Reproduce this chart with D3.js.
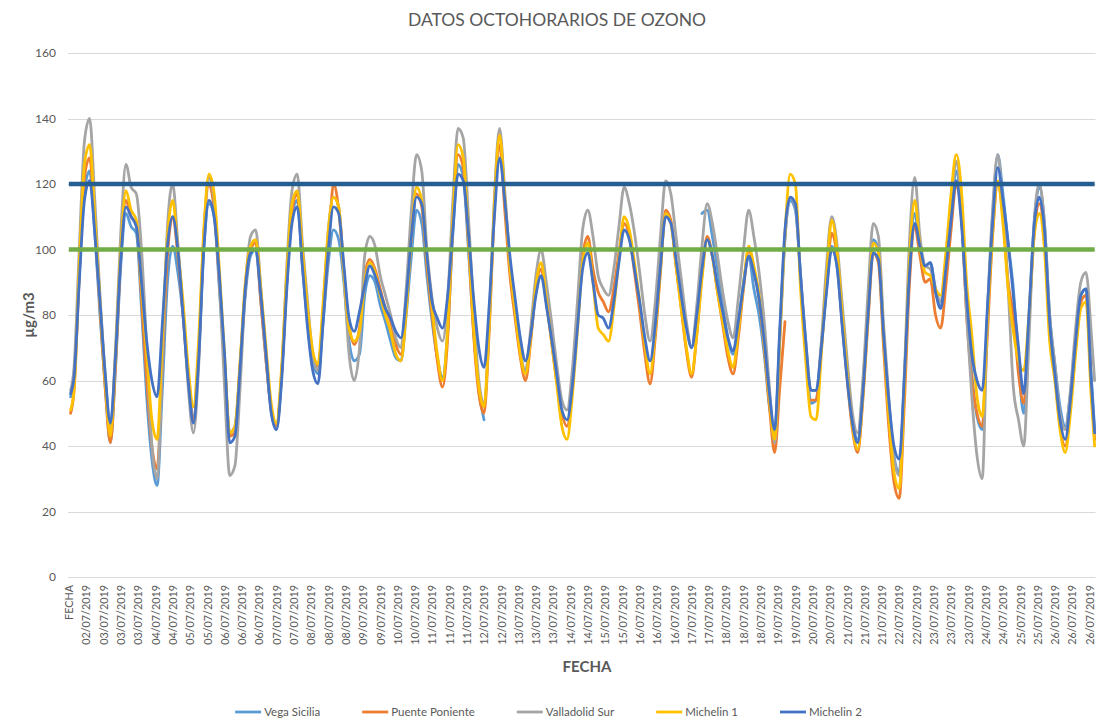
<!DOCTYPE html>
<html><head><meta charset="utf-8">
<script src="https://cdn.jsdelivr.net/npm/d3@7"></script>
<style>
html,body{margin:0;padding:0;background:#fff;}
svg{display:block;font-family:Lato,"Liberation Sans",sans-serif;}
</style></head><body>
<svg id="chart" width="1097" height="720"></svg>
<script>
// ---- data ----
const tickLabels = ["FECHA","02/07/2019","03/07/2019","03/07/2019","03/07/2019","04/07/2019","04/07/2019","05/07/2019","05/07/2019","06/07/2019","06/07/2019","06/07/2019","07/07/2019","07/07/2019","08/07/2019","08/07/2019","08/07/2019","09/07/2019","09/07/2019","10/07/2019","10/07/2019","11/07/2019","11/07/2019","11/07/2019","12/07/2019","12/07/2019","13/07/2019","13/07/2019","13/07/2019","14/07/2019","14/07/2019","15/07/2019","15/07/2019","16/07/2019","16/07/2019","16/07/2019","17/07/2019","17/07/2019","18/07/2019","18/07/2019","18/07/2019","19/07/2019","19/07/2019","20/07/2019","20/07/2019","21/07/2019","21/07/2019","21/07/2019","22/07/2019","22/07/2019","23/07/2019","23/07/2019","23/07/2019","24/07/2019","24/07/2019","25/07/2019","25/07/2019","26/07/2019","26/07/2019","26/07/2019"];
const seriesNames = ["Vega Sicilia","Puente Poniente","Valladolid Sur","Michelin 1","Michelin 2"];
const yTicks = [0,20,40,60,80,100,120,140,160];
const limitValues = [100,120];
const categoryCount = 594;           // FECHA + hourly rows
const tickEvery = 10;                // one label every 10 rows
// sample rows: every 3 hours (row index in the hourly table)
const sampleIndex = [1, ...d3.range(3, 592, 3), 593];

const vegaSicilia = [
 55,62,92,118,124,105,
 80,58,41,64,95,111,107,105,
 82,55,36,28,57,90,101,93,
 80,62,48,68,100,114,110,88,
 65,44,46,64,86,98,100,84,
 66,51,46,62,90,110,115,95,
 78,66,62,78,96,106,103,90,
 72,66,68,86,92,90,83,78,
 72,67,66,80,98,112,108,92,
 78,67,61,75,105,126,122,100,
 75,57,48,null,null,null,null,null,
 null,null,null,null,null,null,null,null,
 null,null,null,null,null,null,null,null,
 null,null,null,null,null,null,null,null,
 null,null,null,null,null,null,null,null,
 null,null,null,null,111,112,104,94,
 83,73,68,77,90,98,88,80,
 68,52,44,74,104,115,112,92,
 70,53,54,70,88,101,95,78,
 61,48,42,58,83,103,100,74,
 53,37,32,60,95,111,100,95,
 96,88,82,95,111,124,110,82,
 62,49,45,80,110,129,117,102,
 88,65,50,78,108,119,108,80,
 65,52,46,56,73,86,88,62,
 45];
const puentePoniente = [
 50,57,92,122,128,108,
 82,58,41,65,98,115,110,108,
 85,60,40,33,64,98,110,98,
 80,60,48,68,104,120,112,90,
 66,43,44,65,88,100,102,84,
 66,51,46,62,90,112,117,96,
 80,68,64,80,100,120,112,93,
 77,71,76,92,97,94,88,82,
 78,71,68,82,104,117,113,95,
 80,66,58,73,108,129,125,102,
 74,56,50,75,112,132,112,92,
 79,67,60,72,88,94,84,72,
 60,50,46,58,78,98,104,94,
 87,84,81,88,99,108,104,93,
 81,68,59,73,93,112,109,95,
 82,69,61,74,92,104,98,87,
 77,67,62,73,88,100,94,85,
 70,52,38,58,78,null,null,null,
 null,54,54,70,90,105,98,78,
 60,45,38,54,78,99,96,70,
 46,29,24,53,90,107,98,90,
 91,80,76,89,106,120,110,80,
 60,50,46,74,104,120,110,90,
 80,62,53,78,104,114,103,75,
 62,46,40,52,70,84,86,58,
 42];
const valladolidSur = [
 57,64,100,133,140,115,
 86,62,45,70,105,126,119,117,
 100,70,40,30,66,107,120,102,
 82,58,44,64,104,122,115,90,
 58,31,34,58,88,104,106,88,
 68,51,45,62,95,118,123,102,
 84,68,63,82,106,116,113,92,
 68,60,70,98,104,101,92,86,
 80,73,70,88,112,129,124,100,
 85,76,72,85,115,137,134,110,
 82,60,53,78,116,137,118,96,
 82,69,63,76,92,100,90,78,
 65,54,51,63,84,106,112,104,
 92,88,86,94,107,119,114,105,
 93,80,72,84,104,121,117,104,
 91,78,70,83,101,114,108,98,
 87,78,73,85,100,112,104,93,
 78,58,41,72,103,116,113,92,
 72,57,57,72,95,110,102,84,
 66,50,44,60,87,108,104,77,
 55,36,31,62,103,122,104,95,
 94,88,84,97,113,127,112,80,
 55,37,30,80,112,129,112,88,
 58,48,40,72,108,120,108,80,
 65,50,45,57,76,90,93,75,
 60];
const michelin1 = [
 51,57,95,126,132,110,
 84,60,43,68,100,118,112,109,
 88,68,48,42,72,104,115,100,
 84,64,52,72,106,123,117,94,
 68,44,46,66,90,101,103,88,
 70,53,47,64,93,114,118,100,
 82,69,65,84,106,116,113,93,
 76,72,75,90,96,93,86,80,
 75,68,66,81,104,119,115,97,
 82,68,60,76,110,132,128,104,
 76,58,52,77,114,135,116,95,
 81,68,62,73,89,96,85,72,
 59,46,42,55,75,96,102,90,
 76,74,72,82,97,110,106,96,
 84,71,62,75,94,111,108,95,
 82,70,62,74,91,103,98,87,
 78,69,64,75,89,101,95,86,
 71,54,42,73,105,123,120,88,
 66,49,48,68,91,109,100,81,
 62,46,39,55,80,102,99,73,
 49,32,27,58,97,115,101,93,
 92,88,86,99,117,129,118,90,
 74,55,49,78,105,121,108,88,
 75,66,63,80,104,111,100,72,
 60,45,38,50,68,82,84,55,
 40];
const michelin2 = [
 56,61,90,115,121,105,
 84,62,47,68,97,113,110,107,
 90,72,60,55,77,101,110,100,
 80,60,47,66,100,115,110,92,
 68,41,43,64,88,99,100,86,
 68,50,45,60,88,108,113,95,
 76,63,59,78,100,113,111,95,
 79,75,81,89,95,92,87,82,
 79,75,73,85,104,116,114,98,
 84,79,76,86,106,123,121,105,
 85,70,64,83,110,128,115,98,
 85,73,66,74,86,92,83,73,
 62,51,48,58,76,94,99,90,
 80,79,76,84,96,106,103,94,
 84,73,66,77,95,110,108,97,
 86,76,70,80,94,103,98,89,
 81,73,69,78,89,98,93,85,
 72,56,45,76,106,116,114,92,
 72,57,57,70,87,100,95,77,
 60,47,41,56,80,99,97,74,
 54,40,36,61,93,108,101,95,
 96,87,82,94,109,121,108,85,
 68,60,57,82,108,125,115,102,
 86,70,56,80,107,116,106,78,
 62,48,42,54,72,86,88,60,
 44];

const seriesValues = [vegaSicilia, puentePoniente, valladolidSur, michelin1, michelin2];
const seriesColors = ["#5B9BD5","#ED7D31","#A5A5A5","#FFC000","#4472C4"];
const limitColors = ["#70AD47","#255E91"];

// ---- layout ----
const W = 1097, H = 720;
const plot = {left: 68, right: 1095.5, top: 53, bottom: 577};
const svg = d3.select("#chart");
const textColor = "#595959";

const x = d3.scaleLinear().domain([-0.5, categoryCount - 0.5]).range([plot.left, plot.right]);
const y = d3.scaleLinear().domain([0, 160]).range([plot.bottom, plot.top]);

// gridlines
svg.append("g").selectAll("line").data(yTicks).join("line")
  .attr("x1", plot.left).attr("x2", plot.right)
  .attr("y1", d => Math.round(y(d)) + 0.5).attr("y2", d => Math.round(y(d)) + 0.5)
  .attr("stroke", "#D9D9D9").attr("stroke-width", 1);

// y axis
const yAxis = svg.append("g").attr("transform", `translate(${plot.left},0)`)
  .call(d3.axisLeft(y).tickValues(yTicks).tickSize(0).tickPadding(12));
yAxis.select(".domain").remove();
yAxis.selectAll("text").attr("fill", textColor).style("font-size", "12px").style("font-family", "Lato");

// x axis
const xAxis = svg.append("g").attr("transform", `translate(0,${plot.bottom})`)
  .call(d3.axisBottom(x).tickValues(d3.range(0, tickLabels.length * tickEvery, tickEvery))
        .tickFormat((d, i) => tickLabels[i]).tickSize(0));
xAxis.select(".domain").remove();
xAxis.selectAll("text")
  .attr("transform", "rotate(-90)").attr("x", -8).attr("y", 0).attr("dy", "0.35em")
  .style("text-anchor", "end").attr("fill", textColor)
  .style("font-size", "10.8px").style("font-family", "Lato");

// series lines
const line = d3.line()
  .defined(d => d[1] != null)
  .x(d => x(d[0])).y(d => y(d[1]))
  .curve(d3.curveMonotoneX);

const gLines = svg.append("g");
seriesValues.forEach((vals, k) => {
  const pts = sampleIndex.map((idx, j) => [idx, vals[j]]);
  gLines.append("path").datum(pts)
    .attr("d", line).attr("fill", "none")
    .attr("stroke", seriesColors[k]).attr("stroke-width", 2.8)
    .attr("stroke-linejoin", "round").attr("stroke-linecap", "round");
});

// limit lines (100 and 120) drawn across all categories
limitValues.forEach((v, k) => {
  const pts = [[0, v], [categoryCount - 1, v]];
  gLines.append("path").datum(pts).attr("d", d3.line().x(d => x(d[0])).y(d => y(d[1])))
    .attr("fill", "none").attr("stroke", limitColors[k]).attr("stroke-width", 4.5);
});

// title
svg.append("text").attr("x", 557).attr("y", 26).attr("text-anchor", "middle")
  .attr("fill", textColor).style("font-size", "17.5px").text("DATOS OCTOHORARIOS DE OZONO");

// axis titles
svg.append("text").attr("transform", "translate(34,315) rotate(-90)").attr("text-anchor", "middle")
  .attr("fill", textColor).style("font-size", "15px").style("font-weight", "bold").text("µg/m3");
svg.append("text").attr("x", 587).attr("y", 672).attr("text-anchor", "middle")
  .attr("fill", textColor).style("font-size", "15px").style("font-weight", "bold").text("FECHA");

// legend
const legend = svg.append("g");
const legendY = 712, swatch = 26, gap = 3, itemGap = 42;
const items = legend.selectAll("g").data(seriesNames).join("g");
items.append("line").attr("x1", 0).attr("x2", swatch).attr("y1", 0).attr("y2", 0)
  .attr("stroke", (d, i) => seriesColors[i]).attr("stroke-width", 2.8);
items.append("text").attr("x", swatch + gap).attr("y", 0).attr("dy", "0.35em")
  .attr("fill", textColor).style("font-size", "11.5px").text(d => d);
const widths = [];
items.each(function() { widths.push(swatch + gap + this.querySelector("text").getComputedTextLength()); });
const total = d3.sum(widths) + itemGap * (widths.length - 1);
let cx = W / 2 - total / 2;
items.attr("transform", (d, i) => { const t = `translate(${cx},${legendY})`; cx += widths[i] + itemGap; return t; });
</script>
</body></html>
